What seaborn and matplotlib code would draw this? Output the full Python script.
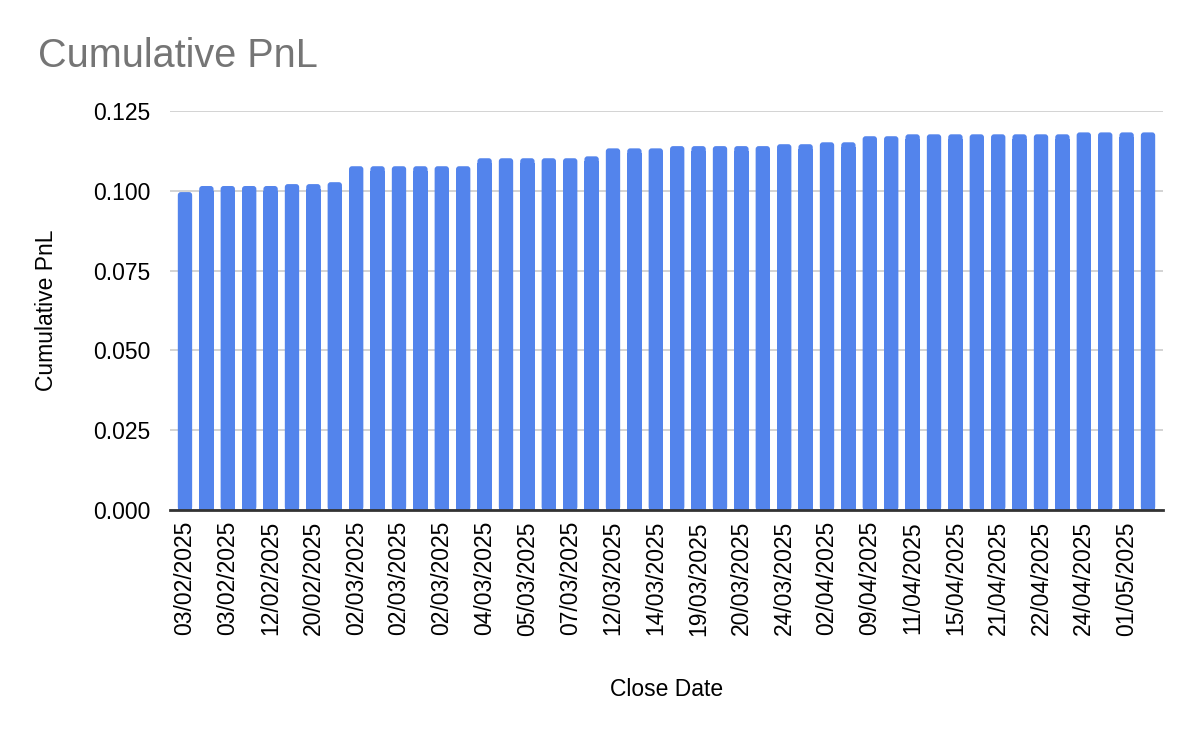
import matplotlib
matplotlib.use("Agg")
import matplotlib.pyplot as plt
from matplotlib.patches import FancyBboxPatch
import seaborn as sns
import pandas as pd

# ---- data ----
close_dates = [
    "03/02/2025", "03/02/2025", "03/02/2025", "10/02/2025", "12/02/2025", "18/02/2025",
    "20/02/2025", "25/02/2025", "02/03/2025", "02/03/2025", "02/03/2025", "02/03/2025",
    "02/03/2025", "03/03/2025", "04/03/2025", "05/03/2025", "05/03/2025", "06/03/2025",
    "07/03/2025", "10/03/2025", "12/03/2025", "13/03/2025", "14/03/2025", "17/03/2025",
    "19/03/2025", "20/03/2025", "20/03/2025", "21/03/2025", "24/03/2025", "31/03/2025",
    "02/04/2025", "04/04/2025", "09/04/2025", "10/04/2025", "11/04/2025", "14/04/2025",
    "15/04/2025", "17/04/2025", "21/04/2025", "22/04/2025", "22/04/2025", "23/04/2025",
    "24/04/2025", "29/04/2025", "01/05/2025", "02/05/2025",
]
cumulative_pnl = [
    0.0996, 0.1015, 0.1015, 0.1015, 0.1015, 0.1021, 0.1021, 0.1027,
    0.1077, 0.1077, 0.1077, 0.1077, 0.1077, 0.1077,
    0.1102, 0.1102, 0.1102, 0.1102, 0.1102, 0.1108,
    0.1133, 0.1133, 0.1133,
    0.1140, 0.1140, 0.1140, 0.1140, 0.1140,
    0.1146, 0.1146, 0.1152, 0.1152, 0.1171, 0.1171,
    0.1177, 0.1177, 0.1177, 0.1177, 0.1177, 0.1177, 0.1177, 0.1177,
    0.1183, 0.1183, 0.1183, 0.1183,
]
y_ticks = [0.0, 0.025, 0.05, 0.075, 0.1, 0.125]

BAR_COLOR = "#5384EC"

df = pd.DataFrame({
    "trade": list(range(len(close_dates))),
    "Close Date": close_dates,
    "Cumulative PnL": cumulative_pnl,
})

sns.set_theme(style="white")
plt.rcParams["font.family"] = ["Liberation Sans", "DejaVu Sans"]

fig = plt.figure(figsize=(12, 7.38), dpi=100)
ax = fig.add_axes([170 / 1200, 1 - 510 / 738, (1163 - 170) / 1200, (510 - 111) / 738])

sns.barplot(data=df, x="trade", y="Cumulative PnL", color=BAR_COLOR,
            saturation=1, width=0.67, ax=ax, zorder=3)

ax.set_xlim(-0.7, len(close_dates) - 0.3)
ax.set_ylim(0, 0.125)

# rounded tops on the bars seaborn drew
rx = 0.14
ry = 0.00094
for p in list(ax.patches):
    x, w, h = p.get_x(), p.get_width(), p.get_height()
    rounded = FancyBboxPatch((x, 0), w, h,
                             boxstyle=f"round,pad=0,rounding_size={rx}",
                             mutation_aspect=ry / rx,
                             facecolor=BAR_COLOR, edgecolor="none", zorder=3)
    ax.add_patch(rounded)
    p.set_height(h - ry * 1.5)
    p.set_edgecolor("none")

ax.set_yticks(y_ticks)
ax.set_yticklabels([f"{t:.3f}" for t in y_ticks], fontsize=16.5, color="#000000")

ticks = list(range(0, len(close_dates), 2))
ax.set_xticks(ticks)
ax.set_xticklabels([close_dates[i] for i in ticks], rotation=90, fontsize=16.5,
                   color="#000000", va="top", ha="center")

ax.tick_params(axis="x", length=0, pad=8)
ax.tick_params(axis="y", length=0, pad=14)

ax.yaxis.grid(True, color="#cccccc", linewidth=1.2, zorder=0)
ax.xaxis.grid(False)
for s in ["top", "right", "left"]:
    ax.spines[s].set_visible(False)
ax.spines["bottom"].set_color("#333333")
ax.spines["bottom"].set_linewidth(2)
ax.spines["bottom"].set_zorder(5)

ax.set_xlabel("Close Date", fontsize=16.5, color="#000000", labelpad=0)
ax.xaxis.set_label_coords(0.5, -(689 - 510) / (510 - 111))
ax.xaxis.label.set_va("center")
ax.set_ylabel("Cumulative PnL", fontsize=16.5, color="#000000")
ax.yaxis.set_label_coords(-(170 - 47) / (1163 - 170), 0.5)
ax.yaxis.label.set_va("center")

fig.text(38 / 1200, 1 - 67 / 738, "Cumulative PnL", fontsize=28.5, color="#757575",
         ha="left", va="baseline")

fig.savefig("out.png", dpi=100, facecolor="white")
